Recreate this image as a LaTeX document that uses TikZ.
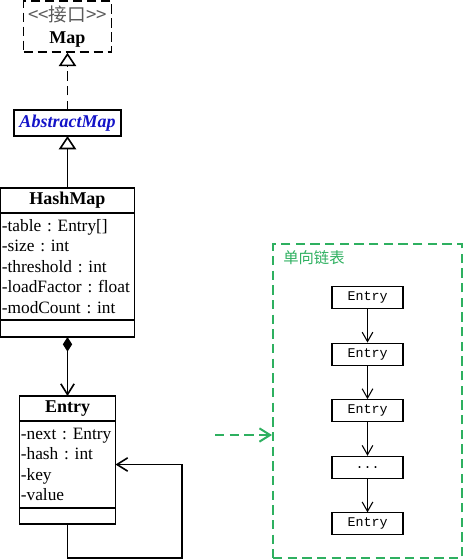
\documentclass[tikz,border=0pt]{standalone}
\usepackage{fontspec}
\setmainfont{Liberation Serif}
\setmonofont{Liberation Mono}
\newfontfamily\cjk{Noto Sans CJK SC}
\usetikzlibrary{positioning,arrows.meta}
\definecolor{listgreen}{RGB}{46,176,96}
\definecolor{abstractblue}{RGB}{20,20,200}
\definecolor{stereogray}{RGB}{90,90,90}
\frenchspacing
\hyphenpenalty=10000
\begin{document}
\begin{tikzpicture}[x=0.75pt,y=-0.75pt,node distance=42.45pt,
            class box/.style={draw,line width=1.2pt,outer sep=0pt,inner sep=0pt},
            class head/.style={class box,font=\fontsize{13.5}{16}\selectfont\bfseries,minimum height=18.75pt},
            class attr/.style={class box,font=\fontsize{13}{15.4}\selectfont,align=left,inner xsep=1pt},
            list node/.style={draw,line width=0.8pt,font=\ttfamily\fontsize{10}{12}\selectfont,minimum width=53.25pt,minimum height=16.5pt,inner sep=0pt},
            extends/.style={-{Triangle[open,length=10pt,width=13pt]},line width=1.2pt},
            owns/.style={{Diamond[length=11pt,width=7pt]}-{Straight Barb[length=8pt,width=10pt]},line width=1.2pt},
            assoc/.style={-{Straight Barb[length=8pt,width=10pt]},line width=1.2pt},
            next/.style={-{Straight Barb[length=7pt,width=8pt]},line width=0.8pt}]

        \useasboundingbox (0,0) rectangle (463,560);

        % Define vertices
        \node[draw,line width=1.2pt,dash pattern=on 7pt off 3.5pt,minimum width=65.25pt,minimum height=36.75pt,
              align=center,font=\fontsize{13.5}{17}\selectfont] (map) at (67.5,26.5)
              {{\cjk\fontsize{14}{17}\selectfont\color{stereogray}<<接口>>}\\\textbf{Map}};
        \node[class box,font=\fontsize{13.5}{16}\selectfont\bfseries\itshape,text=abstractblue,
              minimum width=80.25pt,minimum height=19.5pt] (abstract) at (67.5,123) {AbstractMap};

        \node[class head,minimum width=100.5pt] (hashmap) at (67.5,200.5) {HashMap};
        \node[class attr,text width=98.5pt,minimum height=80.25pt,below=0pt of hashmap] (hashattr)
              {-table : Entry[]\\-size : int\\-threshold : int\\-loadFactor : float\\-modCount : int};
        \node[class box,minimum width=100.5pt,minimum height=12.75pt,below=0pt of hashattr] (hashops) {};

        \node[class head,minimum width=72pt] (entry) at (67.5,408.5) {Entry};
        \node[class attr,text width=70pt,minimum height=65.25pt,below=0pt of entry] (entryattr)
              {-next : Entry\\-hash : int\\-key\\-value};
        \node[class box,minimum width=72pt,minimum height=12pt,below=0pt of entryattr] (entryops) {};
        \coordinate (loopcorner) at (182,558);

        % linked list
        \node[draw=listgreen,line width=1.5pt,dash pattern=on 7pt off 4pt,
              minimum width=141.75pt,minimum height=235.5pt] (frame) at (367.5,401) {};
        \node[anchor=north west,text=listgreen,font=\cjk\fontsize{11.5}{14}\selectfont,inner sep=0pt]
              (frametitle) at (283,250) {单向链表};
        \node[list node] (e1) at (367.5,297.5) {Entry};
        \node[list node] (e2) [below of=e1] {Entry};
        \node[list node] (e3) [below of=e2] {Entry};
        \node[list node] (e4) [below of=e3] {...};
        \node[list node] (e5) [below of=e4] {Entry};
        \coordinate (ptr) at (215,435);

        % Draw edges
        \path[extends,dash pattern=on 7pt off 4pt] (abstract) edge (map);
        \path[extends] (hashmap) edge (abstract);
        \path[owns] (hashops) edge (entry);
        \draw[assoc] (entryops.south) |- (loopcorner) |- (entryattr.east);
        \draw[assoc,draw=listgreen,line width=1.5pt,dash pattern=on 7pt off 4pt] (ptr) -- (ptr -| frame.west);
        \path[next]
            (e1) edge (e2)
            (e2) edge (e3)
            (e3) edge (e4)
            (e4) edge (e5);

        \end{tikzpicture}
\end{document}
